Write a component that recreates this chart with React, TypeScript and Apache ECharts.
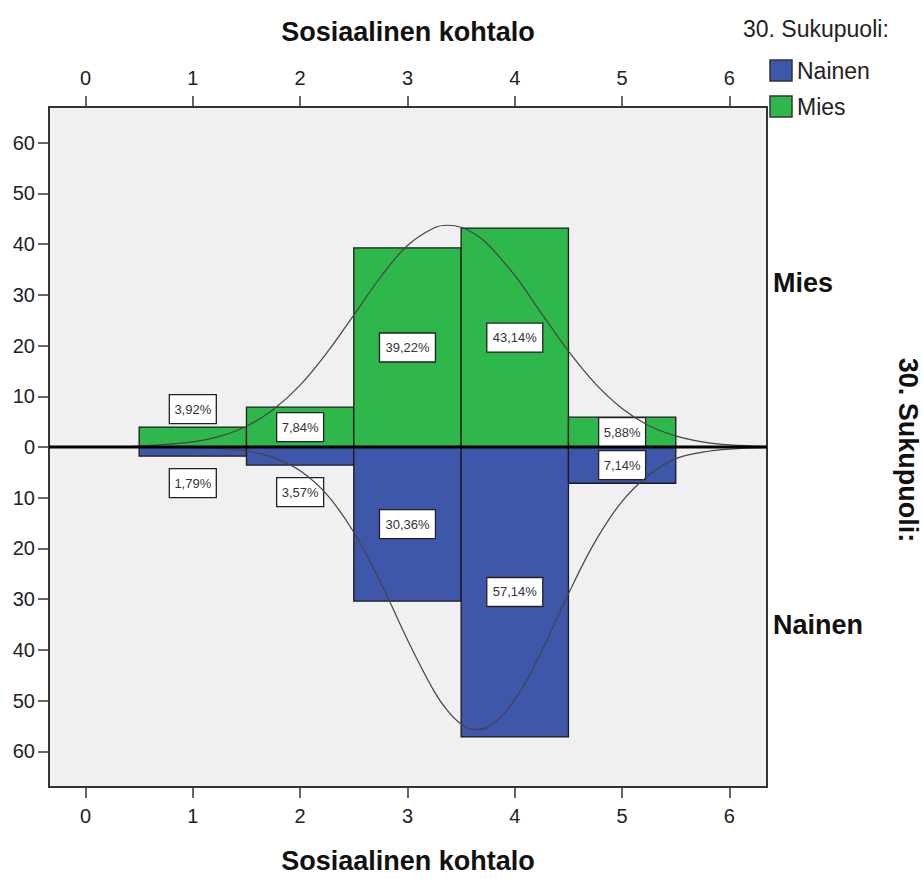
import React, { useEffect, useRef } from "react";
import * as echarts from "echarts";

const bins = [1, 2, 3, 4, 5];
const miesPct = [3.92, 7.84, 39.22, 43.14, 5.88];
const nainenPct = [1.79, 3.57, 30.36, 57.14, 7.14];
const miesLabels = ["3,92%", "7,84%", "39,22%", "43,14%", "5,88%"];
const nainenLabels = ["1,79%", "3,57%", "30,36%", "57,14%", "7,14%"];

const curveX = [-0.34, 0, 0.5, 1, 1.25, 1.5, 1.75, 2, 2.25, 2.5, 2.75, 3, 3.25, 3.375, 3.5, 3.625, 3.75, 4, 4.25, 4.5, 4.75, 5, 5.25, 5.5, 5.75, 6, 6.35];
const miesCurve = [0, 0, 0.2, 1.0, 2.1, 4.1, 7.4, 12.2, 18.6, 26.0, 33.5, 39.7, 43.2, 43.7, 43.3, 42.0, 39.9, 33.8, 26.3, 18.9, 12.5, 7.6, 4.2, 2.2, 1.0, 0.4, 0.1];
const nainenCurve = [0, 0, 0, -0.1, -0.3, -0.8, -2.1, -4.7, -9.4, -16.8, -26.7, -38.0, -48.2, -52.0, -54.6, -55.7, -55.2, -49.8, -40.2, -28.9, -18.6, -10.7, -5.5, -2.3, -1.0, -0.4, -0.1];

const xTicks = [0, 1, 2, 3, 4, 5, 6];
const yTicks = [-60, -50, -40, -30, -20, -10, 0, 10, 20, 30, 40, 50, 60];

const xMin = -0.34;
const xMax = 6.35;
const yMin = -67;
const yMax = 67;

const GREEN = "#2EB84C";
const BLUE = "#3E57AB";
const FONT = "Liberation Sans, Arial, sans-serif";

function barRender(color: string) {
  return (params: any, api: any) => {
    const x = api.value(0);
    const v = api.value(1);
    const p0 = api.coord([x - 0.5, v]);
    const p1 = api.coord([x + 0.5, 0]);
    const y = Math.min(p0[1], p1[1]);
    const h = Math.abs(p1[1] - p0[1]);
    return {
      type: "rect",
      shape: { x: p0[0], y, width: p1[0] - p0[0], height: h },
      style: { fill: color, stroke: "#1a1a1a", lineWidth: 1.3 },
    };
  };
}

function labelRender(labels: string[], sign: number) {
  return (params: any, api: any) => {
    const i = params.dataIndex;
    const x = api.value(0);
    const v = api.value(1);
    const txt = labels[i];
    let cx: number;
    let cy: number;
    if (Math.abs(v) < 5) {
      const end = api.coord([x, v]);
      cx = end[0];
      cy = sign > 0 ? end[1] - 18 : end[1] + 27;
    } else {
      const mid = api.coord([x, v / 2]);
      cx = mid[0];
      cy = mid[1];
    }
    const w = 9 * txt.length + 2;
    const h = 29;
    return {
      type: "group",
      children: [
        {
          type: "rect",
          shape: { x: cx - w / 2, y: cy - h / 2, width: w, height: h },
          style: { fill: "#ffffff", stroke: "#222", lineWidth: 1.3 },
        },
        {
          type: "text",
          x: cx,
          y: cy,
          style: {
            text: txt,
            fill: "#333",
            font: `13px ${FONT}`,
            align: "center",
            verticalAlign: "middle",
          },
        },
      ],
    };
  };
}

export default function App() {
  const ref = useRef<HTMLDivElement>(null);
  useEffect(() => {
    document.body.style.margin = "0";
    const chart = echarts.init(ref.current!, null, { renderer: "svg", width: 923, height: 879 });
    const axisCommon = {
      type: "value",
      min: xMin,
      max: xMax,
      splitLine: { show: false },
      axisLine: { show: false, onZero: false },
      axisTick: {
        show: true,
        inside: false,
        length: 11,
        customValues: xTicks,
        lineStyle: { color: "#333", width: 1.5 },
      },
      nameLocation: "middle",
      nameTextStyle: { fontFamily: FONT, fontWeight: "bold", fontSize: 27, color: "#111" },
    };
    chart.setOption({
      animation: false,
      backgroundColor: "#ffffff",
      grid: {
        left: 49,
        right: 156,
        top: 107,
        bottom: 86,
        show: true,
        backgroundColor: "#F0F0F0",
        borderColor: "#333",
        borderWidth: 2,
      },
      xAxis: [
        {
          ...axisCommon,
          position: "bottom",
          name: "Sosiaalinen kohtalo",
          nameGap: 60,
          axisLabel: {
            customValues: xTicks,
            margin: 19,
            fontFamily: FONT,
            fontSize: 20,
            color: "#222",
          },
        },
        {
          ...axisCommon,
          position: "top",
          name: "Sosiaalinen kohtalo",
          nameGap: 62,
          axisLabel: {
            customValues: xTicks,
            margin: 19,
            fontFamily: FONT,
            fontSize: 20,
            color: "#222",
          },
        },
      ],
      yAxis: {
        type: "value",
        min: yMin,
        max: yMax,
        splitLine: { show: false },
        axisLine: { show: false, onZero: false },
        axisTick: {
          show: true,
          length: 11,
          customValues: yTicks,
          lineStyle: { color: "#333", width: 1.5 },
        },
        axisLabel: {
          customValues: yTicks,
          margin: 14,
          fontFamily: FONT,
          fontSize: 20,
          color: "#222",
          formatter: (v: number) => String(Math.abs(v)),
        },
      },
      series: [
        {
          type: "custom",
          name: "Mies",
          z: 2,
          renderItem: barRender(GREEN),
          data: bins.map((b, i) => [b, miesPct[i]]),
        },
        {
          type: "custom",
          name: "Nainen",
          z: 2,
          renderItem: barRender(BLUE),
          data: bins.map((b, i) => [b, -nainenPct[i]]),
        },
        {
          type: "custom",
          name: "Mies labels",
          z: 3,
          renderItem: labelRender(miesLabels, 1),
          data: bins.map((b, i) => [b, miesPct[i]]),
        },
        {
          type: "custom",
          name: "Nainen labels",
          z: 3,
          renderItem: labelRender(nainenLabels, -1),
          data: bins.map((b, i) => [b, -nainenPct[i]]),
        },
        {
          type: "line",
          name: "Mies normal",
          z: 4,
          smooth: 0.4,
          showSymbol: false,
          symbol: "none",
          lineStyle: { color: "#444", width: 1.2 },
          data: curveX.map((x, i) => [x, miesCurve[i]]),
        },
        {
          type: "line",
          name: "Nainen normal",
          z: 4,
          smooth: 0.4,
          showSymbol: false,
          symbol: "none",
          lineStyle: { color: "#444", width: 1.2 },
          data: curveX.map((x, i) => [x, nainenCurve[i]]),
        },
        {
          type: "line",
          name: "zero",
          z: 5,
          showSymbol: false,
          symbol: "none",
          lineStyle: { color: "#000", width: 3 },
          data: [
            [xMin, 0],
            [xMax, 0],
          ],
        },
      ],
      graphic: [
        {
          type: "text",
          left: 743,
          top: 17,
          style: { text: "30. Sukupuoli:", font: `23px ${FONT}`, fill: "#222" },
        },
        {
          type: "rect",
          shape: { x: 770, y: 60, width: 22, height: 21 },
          style: { fill: BLUE, stroke: "#333", lineWidth: 1.5 },
        },
        {
          type: "text",
          x: 797,
          y: 71,
          style: { text: "Nainen", font: `23px ${FONT}`, fill: "#222", verticalAlign: "middle" },
        },
        {
          type: "rect",
          shape: { x: 770, y: 96, width: 22, height: 21 },
          style: { fill: GREEN, stroke: "#333", lineWidth: 1.5 },
        },
        {
          type: "text",
          x: 797,
          y: 107,
          style: { text: "Mies", font: `23px ${FONT}`, fill: "#222", verticalAlign: "middle" },
        },
        {
          type: "text",
          x: 773,
          y: 283,
          style: { text: "Mies", font: `bold 27px ${FONT}`, fill: "#111", verticalAlign: "middle" },
        },
        {
          type: "text",
          x: 773,
          y: 625,
          style: { text: "Nainen", font: `bold 27px ${FONT}`, fill: "#111", verticalAlign: "middle" },
        },
        {
          type: "text",
          x: 908,
          y: 450,
          rotation: -Math.PI / 2,
          style: {
            text: "30. Sukupuoli:",
            font: `bold 27px ${FONT}`,
            fill: "#111",
            align: "center",
            verticalAlign: "middle",
          },
        },
      ],
    });
    return () => chart.dispose();
  }, []);
  return (
    <div
      ref={ref}
      style={{ position: "fixed", left: 0, top: 0, width: 923, height: 879 }}
    />
  );
}
